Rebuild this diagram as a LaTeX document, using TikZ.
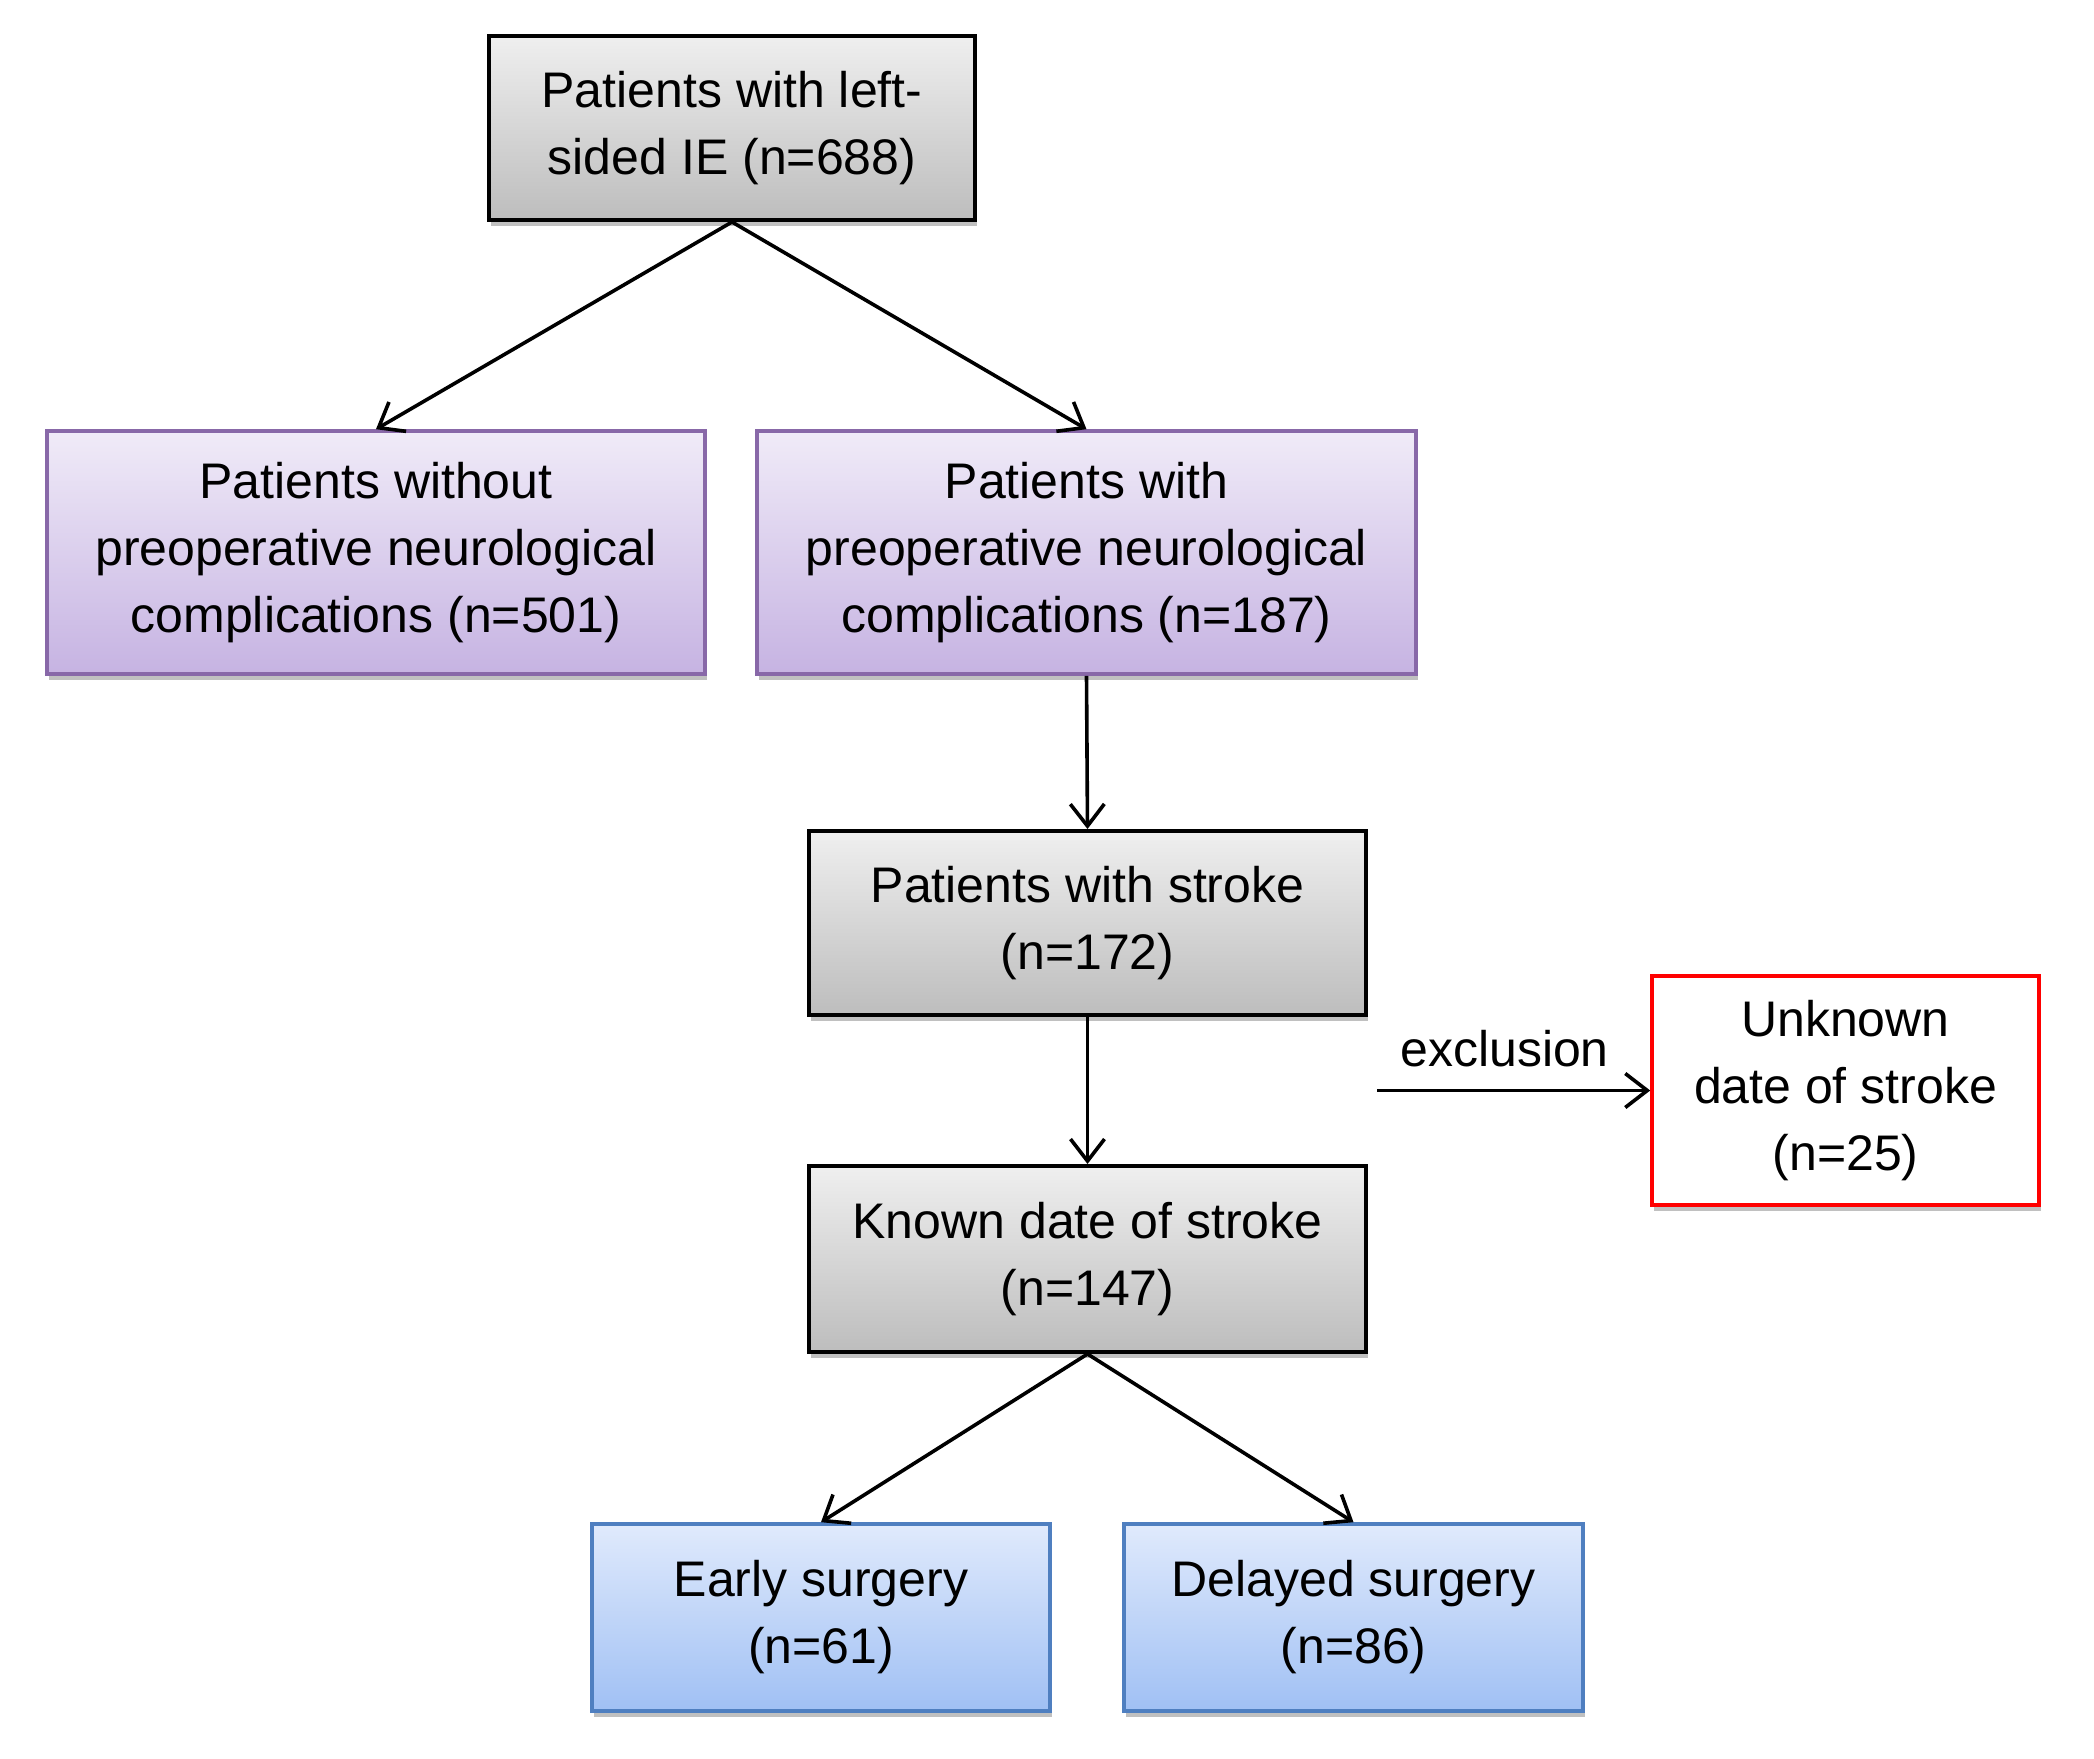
\documentclass[tikz,border=0pt]{standalone}
\usepackage{fontspec}
\setmainfont{Liberation Sans}
\usetikzlibrary{arrows.meta,shadows}
\definecolor{grayTop}{HTML}{EFEFEF}
\definecolor{grayBot}{HTML}{BDBDBD}
\definecolor{purTop}{HTML}{F0EBF8}
\definecolor{purBot}{HTML}{C6B3E2}
\definecolor{purLine}{HTML}{8868A8}
\definecolor{bluTop}{HTML}{E0EAFC}
\definecolor{bluBot}{HTML}{A0C0F4}
\definecolor{bluLine}{HTML}{4F7FC0}
\definecolor{redLine}{HTML}{FF0000}
\tikzset{
  box/.style={rectangle, align=center, inner sep=0pt,
    font=\fontsize{25pt}{33.5pt}\selectfont,
    drop shadow={shadow xshift=1pt, shadow yshift=-3pt, opacity=0.35, fill=black!70}},
  graybox/.style={box, draw=black, line width=2pt, top color=grayTop, bottom color=grayBot},
  purplebox/.style={box, draw=purLine, line width=1.8pt, top color=purTop, bottom color=purBot},
  bluebox/.style={box, draw=bluLine, line width=1.8pt, top color=bluTop, bottom color=bluBot},
  redbox/.style={box, draw=redLine, line width=1.8pt, fill=white},
  conn/.style={line width=1.8pt, -{Straight Barb[length=11pt, width=17pt, line width=1.8pt]}},
  lbl/.style={font=\fontsize{25pt}{30pt}\selectfont, inner sep=0pt}
}
\begin{document}
\begin{tikzpicture}[x=0.5pt, y=-0.5pt]
\useasboundingbox[fill=white] (0,0) rectangle (2094,1759);
\node[graybox, minimum width=243pt, minimum height=92pt] (top) at (732,128) {Patients with left-\\sided IE (n=688)};
\node[purplebox, minimum width=329pt, minimum height=121.5pt] (without) at (376,552.5) {Patients without\\preoperative neurological\\complications (n=501)};
\node[purplebox, minimum width=329.5pt, minimum height=121.5pt] (with) at (1086.5,552.5) {Patients with\\preoperative neurological\\complications (n=187)};
\node[graybox, minimum width=278.5pt, minimum height=92pt] (stroke) at (1087.5,923) {Patients with stroke\\(n=172)};
\node[graybox, minimum width=278.5pt, minimum height=93pt] (known) at (1087.5,1259) {Known date of stroke\\(n=147)};
\node[redbox, minimum width=193.5pt, minimum height=114.5pt] (unknown) at (1845.5,1090.5) {Unknown\\date of stroke\\(n=25)};
\node[bluebox, minimum width=229pt, minimum height=93.5pt] (early) at (821,1617.5) {Early surgery\\(n=61)};
\node[bluebox, minimum width=229.5pt, minimum height=93.5pt] (delayed) at (1353.5,1617.5) {Delayed surgery\\(n=86)};
\coordinate (exstart) at (1377,1090.5);
\draw[conn] (top.south) -- (without.north);
\draw[conn] (top.south) -- (with.north);
\draw[conn] (with.south) -- (stroke.north);
\draw[conn] (stroke.south) -- (known.north);
\draw[conn] (known.south) -- (early.north);
\draw[conn] (known.south) -- (delayed.north);
\draw[conn] (exstart) -- node[lbl, above=11pt, xshift=-4.5pt] (exlbl) {exclusion} (unknown.west);
\end{tikzpicture}
\end{document}
